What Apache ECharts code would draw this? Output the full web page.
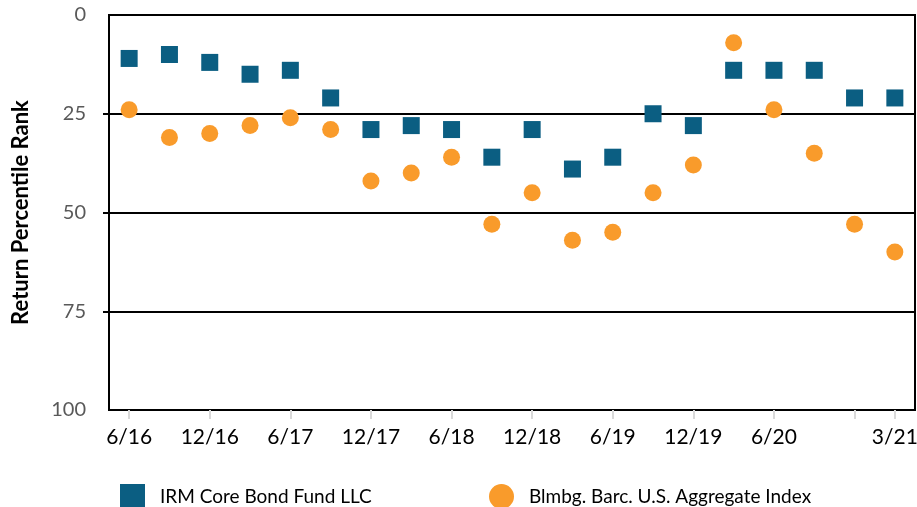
<!DOCTYPE html>
<html>
<head>
<meta charset="utf-8">
<script src="https://cdn.jsdelivr.net/npm/echarts@6/dist/echarts.min.js"></script>
<style>html,body{margin:0;padding:0;background:#fff;}#c{width:917px;height:507px;}</style>
</head>
<body>
<div id="c"></div>
<script>
const categories = ['6/16','9/16','12/16','3/17','6/17','9/17','12/17','3/18','6/18','9/18','12/18','3/19','6/19','9/19','12/19','3/20','6/20','9/20','12/20','3/21'];
const irmValues = [11,10,12,15,14,21,29,28,29,36,29,39,36,25,28,14,14,14,21,21];
const indexValues = [24,31,30,28,26,29,42,40,36,53,45,57,55,45,38,7,24,35,53,60];
const yTicks = [0,25,50,75,100];
const seriesNames = ['IRM Core Bond Fund LLC','Blmbg. Barc. U.S. Aggregate Index'];
const FONT = 'Lato';

const labelIdx = new Set([0,2,4,6,8,10,12,14,16,19]);
const tickIdx = new Set([0,2,4,6,8,10,12,14,16,18,19]);

const chart = echarts.init(document.getElementById('c'), null, {renderer:'canvas'});
chart.setOption({
  animation:false,
  backgroundColor:'#fff',
  grid:{left:109,right:2,top:15,bottom:97,outerBoundsMode:'none',containLabel:false,
    show:true,borderColor:'#000',borderWidth:2,backgroundColor:'transparent'},
  legend:[
    {data:[seriesNames[0]],left:115,top:479,itemWidth:25,itemHeight:25,icon:'rect',
     textStyle:{fontFamily:FONT,fontSize:19,color:'#000',padding:[0,0,0,10]}},
    {data:[seriesNames[1]],left:484,top:479,itemWidth:25,itemHeight:25,icon:'circle',
     textStyle:{fontFamily:FONT,fontSize:19,color:'#000',padding:[0,0,0,10]}}
  ],
  xAxis:{
    type:'category',data:categories,boundaryGap:true,
    axisLine:{show:true,onZero:false,lineStyle:{color:'#000',width:2}},
    axisTick:{show:true,alignWithLabel:true,length:9,lineStyle:{color:'#d9d9d9',width:2},
      interval:(i)=>tickIdx.has(i)},
    axisLabel:{fontFamily:FONT,fontSize:21,color:'#000',margin:17,
      interval:(i)=>labelIdx.has(i)},
    splitLine:{show:false}
  },
  yAxis:{
    type:'value',inverse:true,min:0,max:100,interval:25,
    name:'Return Percentile Rank',nameLocation:'middle',nameGap:77,
    nameTextStyle:{fontFamily:FONT,fontSize:22,fontWeight:'bold',color:'#000'},
    axisLine:{show:true,lineStyle:{color:'#000',width:2}},
    axisTick:{show:true,length:6,lineStyle:{color:'#000',width:2},customValues:[25,50,75]},
    axisLabel:{fontFamily:FONT,fontSize:20,margin:23,
      customValues:yTicks,
      color:(v)=> (v===0||v===100)?'#000':'#595959'},
    splitLine:{show:true,lineStyle:{color:'#000',width:2}}
  },
  series:[
    {name:seriesNames[0],type:'scatter',data:irmValues,symbol:'rect',symbolSize:17,
     itemStyle:{color:'#0B5E82',opacity:1},z:3},
    {name:seriesNames[1],type:'scatter',data:indexValues,symbol:'circle',symbolSize:17,
     itemStyle:{color:'#F99B2B',opacity:1},z:2}
  ]
});
</script>
</body>
</html>
